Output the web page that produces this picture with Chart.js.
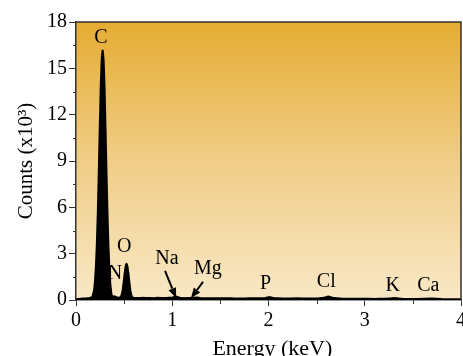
<!DOCTYPE html>
<html>
<head>
<meta charset="utf-8">
<script src="https://cdn.jsdelivr.net/npm/chart.js@4/dist/chart.umd.min.js"></script>
<style>
html,body{margin:0;padding:0;background:#fff;overflow:hidden;}
#wrap{width:463px;height:356px;position:relative;}
</style>
</head>
<body>
<div id="wrap"><canvas id="c" width="463" height="356"></canvas></div>
<script>
// ---- data (energy in keV, counts in x10^3) ----
const energies = [0.00,0.05,0.10,0.14,0.17,0.187,0.197,0.207,0.217,0.227,0.237,0.247,0.257,0.267,0.277,0.287,0.297,0.307,0.317,0.327,0.337,0.347,0.357,0.367,0.377,0.39,0.40,0.42,0.44,0.465,0.475,0.485,0.495,0.505,0.515,0.525,0.535,0.545,0.555,0.565,0.575,0.585,0.60,0.65,0.70,0.75,0.80,0.85,0.90,0.95,1.00,1.04,1.08,1.12,1.18,1.25,1.30,1.40,1.50,1.60,1.70,1.80,1.90,1.96,2.01,2.06,2.15,2.30,2.40,2.50,2.57,2.62,2.67,2.75,2.90,3.00,3.10,3.20,3.31,3.40,3.55,3.69,3.80,3.90,4.00];
const counts   = [0.05,0.08,0.10,0.12,0.20,0.60,1.20,2.20,3.70,5.80,8.40,11.2,13.8,15.6,16.2,15.5,13.7,11.0,8.2,5.6,3.5,2.0,1.0,0.45,0.22,0.22,0.25,0.18,0.15,0.20,0.35,0.65,1.14,1.70,2.16,2.35,2.15,1.70,1.12,0.62,0.32,0.18,0.14,0.13,0.14,0.13,0.12,0.14,0.13,0.14,0.16,0.22,0.15,0.12,0.13,0.16,0.12,0.11,0.12,0.11,0.10,0.11,0.11,0.13,0.20,0.12,0.10,0.11,0.09,0.10,0.14,0.22,0.15,0.09,0.08,0.08,0.07,0.08,0.13,0.07,0.07,0.10,0.06,0.05,0.05];

const xTicks = [0,1,2,3,4];
const yTicks = [0,3,6,9,12,15,18];
const yMinor = [1.5,4.5,7.5,10.5,13.5,16.5];
const xMinor = [0.5,1.5,2.5,3.5];

const elementNames = ['C','N','O','Na','Mg','P','Cl','K','Ca'];
const elementX     = [0.26,0.405,0.50,0.945,1.37,1.97,2.60,3.29,3.66];
const elementY     = [16.95,1.69,3.44,2.66,2.01,1.04,1.17,0.91,0.91];

// arrows: from -> to (data coordinates)
const arrowFromX = [0.925,1.32];
const arrowFromY = [1.88,1.17];
const arrowToX   = [1.04,1.195];
const arrowToY   = [0.13,0.13];

const xTitle = 'Energy (keV)';
const yTitle = 'Counts (x10\u00B3)';
const FONT = '"Liberation Serif", "Times New Roman", serif';

const points = energies.map((e,i)=>({x:e,y:counts[i]}));

const bgPlugin = {
  id:'bg',
  beforeDraw(chart){
    const {ctx, chartArea:a} = chart;
    const g = ctx.createLinearGradient(0,a.top,0,a.bottom);
    g.addColorStop(0,'rgb(229,172,50)');
    g.addColorStop(0.5,'rgb(240,205,135)');
    g.addColorStop(1,'rgb(249,232,198)');
    ctx.save();
    ctx.fillStyle = g;
    ctx.fillRect(a.left,a.top,a.right-a.left,a.bottom-a.top);
    ctx.restore();
  }
};

const decoPlugin = {
  id:'deco',
  afterDraw(chart){
    const {ctx, chartArea:a, scales:{x,y}} = chart;
    ctx.save();
    // frame top & right
    ctx.strokeStyle = '#333';
    ctx.lineWidth = 1.5;
    ctx.beginPath();
    ctx.moveTo(a.left,a.top); ctx.lineTo(a.right,a.top); ctx.lineTo(a.right,a.bottom);
    ctx.stroke();
    // minor ticks
    ctx.lineWidth = 1;
    ctx.beginPath();
    yMinor.forEach(v=>{const p=Math.round(y.getPixelForValue(v))+0.5; ctx.moveTo(a.left-3,p); ctx.lineTo(a.left,p);});
    xMinor.forEach(v=>{const p=Math.round(x.getPixelForValue(v))+0.5; ctx.moveTo(p,a.bottom); ctx.lineTo(p,a.bottom+4);});
    ctx.stroke();
    // element labels
    ctx.fillStyle = '#000';
    ctx.font = '20px ' + FONT;
    ctx.textAlign = 'center';
    ctx.textBaseline = 'middle';
    elementNames.forEach((n,i)=>{
      ctx.fillText(n, x.getPixelForValue(elementX[i]), y.getPixelForValue(elementY[i]));
    });
    // arrows
    ctx.strokeStyle = '#000';
    ctx.fillStyle = '#000';
    ctx.lineWidth = 2;
    arrowFromX.forEach((fx,i)=>{
      const x0 = x.getPixelForValue(fx), y0 = y.getPixelForValue(arrowFromY[i]);
      const x1 = x.getPixelForValue(arrowToX[i]), y1 = y.getPixelForValue(arrowToY[i]);
      const ang = Math.atan2(y1-y0,x1-x0);
      const hl = 10, hw = 4;
      const bx = x1 - hl*Math.cos(ang), by = y1 - hl*Math.sin(ang);
      ctx.beginPath(); ctx.moveTo(x0,y0); ctx.lineTo(bx,by); ctx.stroke();
      ctx.beginPath();
      ctx.moveTo(x1,y1);
      ctx.lineTo(bx + hw*Math.sin(ang), by - hw*Math.cos(ang));
      ctx.lineTo(bx - hw*Math.sin(ang), by + hw*Math.cos(ang));
      ctx.closePath(); ctx.fill();
    });
    // x title
    ctx.font = '22px ' + FONT;
    ctx.textBaseline = 'alphabetic';
    ctx.textAlign = 'center';
    ctx.fillText(xTitle, x.getPixelForValue(2.04), 355);
    ctx.restore();
  }
};

new Chart(document.getElementById('c'), {
  type:'scatter',
  data:{datasets:[{
    data: points,
    showLine:true,
    fill:'origin',
    backgroundColor:'#000',
    borderColor:'#000',
    borderWidth:2,
    pointRadius:0,
    tension:0.02
  }]},
  options:{
    responsive:false,
    animation:false,
    layout:{padding:{top:22,right:2,left:0,bottom:0}},
    plugins:{legend:{display:false},tooltip:{enabled:false}},
    scales:{
      x:{
        type:'linear', min:0, max:4,
        afterBuildTicks(s){ s.ticks = xTicks.map(v=>({value:v})); },
        afterFit(s){ s.height = 56; s.paddingLeft = 0; s.paddingRight = 0; },
        grid:{drawOnChartArea:false, drawTicks:true, tickLength:6, color:'#333'},
        border:{display:true, color:'#333', width:1.5},
        ticks:{color:'#000', font:{family:FONT, size:20}, padding:3, maxRotation:0}
      },
      y:{
        min:0, max:18,
        afterBuildTicks(s){ s.ticks = yTicks.map(v=>({value:v})); },
        afterFit(s){ s.width = 76; s.paddingTop = 0; s.paddingBottom = 0; },
        grid:{drawOnChartArea:false, drawTicks:true, tickLength:7, color:'#333'},
        border:{display:true, color:'#333', width:1.5},
        ticks:{color:'#000', font:{family:FONT, size:20}, padding:2},
        title:{display:true, text:yTitle, color:'#000', font:{family:FONT, size:21}, padding:{top:14,bottom:0}}
      }
    }
  },
  plugins:[bgPlugin, decoPlugin]
});
</script>
</body>
</html>
